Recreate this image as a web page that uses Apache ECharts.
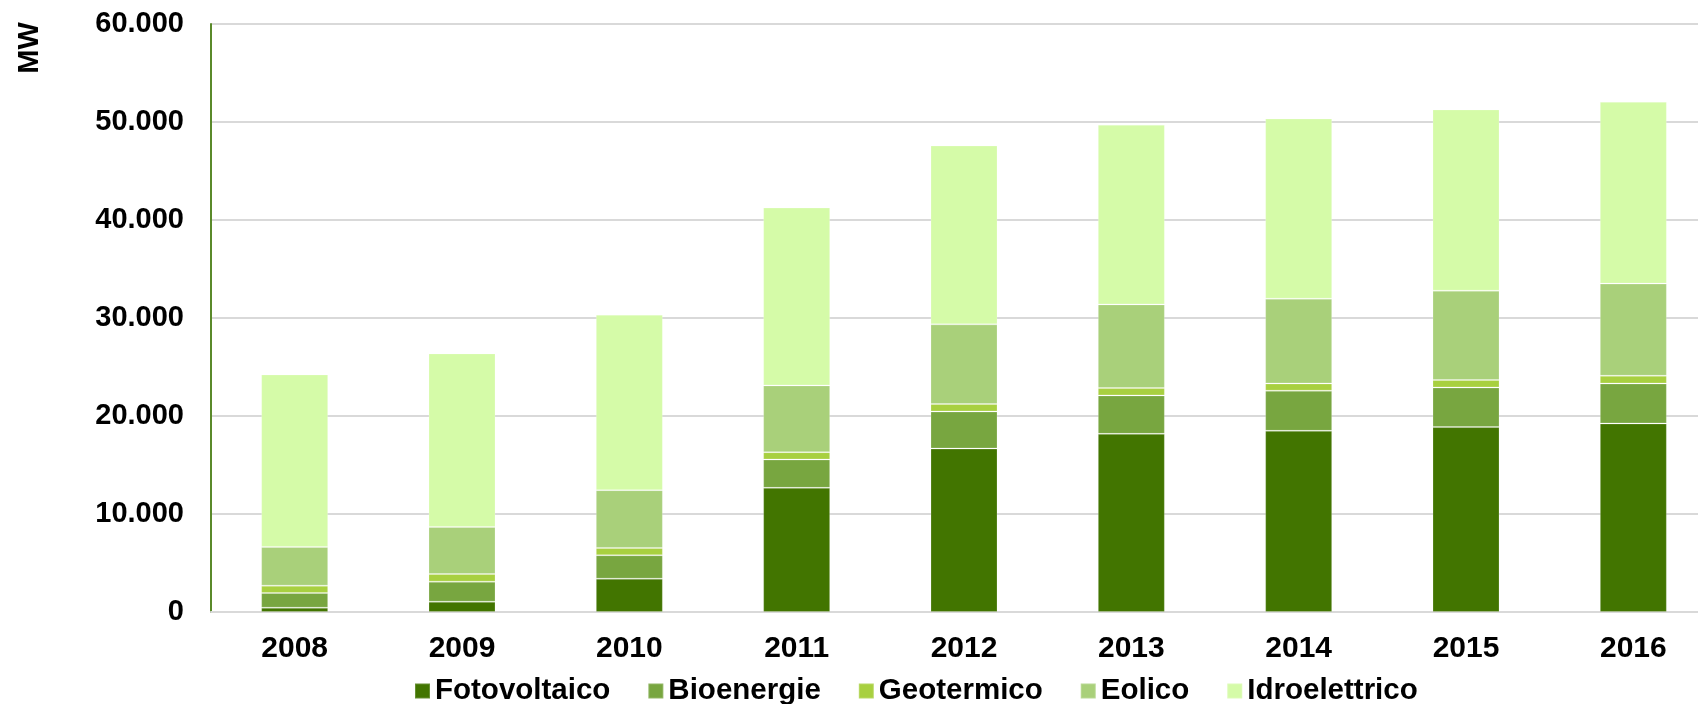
<!DOCTYPE html>
<html>
<head>
<meta charset="utf-8">
<script src="https://cdn.jsdelivr.net/npm/echarts@6/dist/echarts.min.js"></script>
<style>
  html, body { margin: 0; padding: 0; background: #ffffff; }
  #chart { width: 1698px; height: 704px; }
</style>
</head>
<body>
<div id="chart"></div>
<script>
// Installed renewable capacity (MW) by source, Italy
const years = ['2008', '2009', '2010', '2011', '2012', '2013', '2014', '2015', '2016'];
const fotovoltaico = [440, 1050, 3400, 12670, 16680, 18180, 18490, 18870, 19240];
const bioenergie = [1500, 2045, 2390, 2890, 3780, 3920, 4090, 4040, 4080];
const geotermico = [750, 785, 750, 750, 760, 750, 740, 760, 790];
const eolico = [3950, 4800, 5890, 6810, 8130, 8540, 8650, 9120, 9400];
const idroelettrico = [17600, 17710, 17910, 18150, 18250, 18330, 18390, 18490, 18550];

const seriesNames = ['Fotovoltaico', 'Bioenergie', 'Geotermico', 'Eolico', 'Idroelettrico'];
const seriesData = [fotovoltaico, bioenergie, geotermico, eolico, idroelettrico];
const seriesColors = ['#427500', '#78a640', '#a8d040', '#a9d07a', '#d5fba8'];

const FONT = "'Liberation Sans', Arial, sans-serif";

function thousands(v) {
  return String(v).replace(/\B(?=(\d{3})+(?!\d))/g, '.');
}

const chart = echarts.init(document.getElementById('chart'), null, { renderer: 'canvas' });

chart.setOption({
  animation: false,
  backgroundColor: '#ffffff',
  textStyle: { fontFamily: FONT },
  // plot area runs past the right edge of the canvas
  grid: { left: 211, width: 1506, top: 24, bottom: 92, containLabel: false, outerBoundsMode: 'none' },
  legend: {
    left: 414,
    top: 676,
    padding: 0,
    itemWidth: 15,
    itemHeight: 15,
    itemGap: 37,
    icon: 'rect',
    data: seriesNames,
    textStyle: { fontFamily: FONT, fontSize: 29.5, fontWeight: 'bold', color: '#000000' }
  },
  graphic: [{
    type: 'text',
    x: 30,
    y: 48,
    rotation: Math.PI / 2,
    style: {
      text: 'MW',
      font: "bold 29px 'Liberation Sans', Arial, sans-serif",
      fill: '#000000',
      align: 'center',
      verticalAlign: 'middle'
    }
  }],
  xAxis: {
    type: 'category',
    data: years,
    axisTick: { show: false },
    axisLine: { show: true, lineStyle: { color: '#d9d9d9', width: 2 } },
    axisLabel: { margin: 22, fontFamily: FONT, fontSize: 30, fontWeight: 'bold', color: '#000000' }
  },
  yAxis: {
    type: 'value',
    min: 0,
    max: 60000,
    interval: 10000,
    axisLine: { show: true, lineStyle: { color: '#5a8a2a', width: 2 } },
    axisTick: { show: false },
    splitLine: { show: true, lineStyle: { color: '#d9d9d9', width: 2 } },
    axisLabel: {
      margin: 27,
      fontFamily: FONT,
      fontSize: 29,
      fontWeight: 'bold',
      color: '#000000',
      formatter: thousands
    }
  },
  series: seriesNames.map((name, i) => ({
    name: name,
    type: 'bar',
    stack: 'total',
    barWidth: 67,
    data: seriesData[i],
    itemStyle: {
      color: seriesColors[i],
      borderColor: 'rgba(255,255,255,0.2)',
      borderWidth: 1
    }
  }))
});
</script>
</body>
</html>
